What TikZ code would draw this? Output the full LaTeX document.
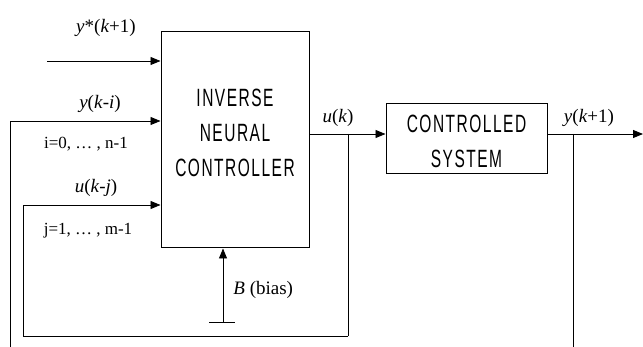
\documentclass[tikz,border=0pt]{standalone}
\usepackage{fontspec}
\setmainfont{Liberation Serif}
\newfontfamily\blkfont[FakeStretch=0.62,LetterSpace=6]{Liberation Sans}
\usetikzlibrary{positioning,calc,arrows.meta}
\tikzset{>={Triangle[length=10pt,width=8pt]}}
\tikzset{blk/.style={draw,line width=1pt,inner sep=0pt}  }
\tikzset{blktxt/.style={align=center,inner sep=0pt,font=\blkfont\fontsize{25}{35}\selectfont}  }
\tikzset{lbl/.style={inner sep=0pt,font=\fontsize{19}{21}\selectfont}  }
\tikzset{idx/.style={inner sep=0pt,font=\fontsize{17}{19}\selectfont}  }

\begin{document}
\begin{tikzpicture}[x=1pt,y=-1pt,line width=0.9pt]
\useasboundingbox (0,0) rectangle (643,347);

    % blocks
    \node[blk,minimum width=148pt,minimum height=216pt] (inc) at (235,140) {};
    \node[blktxt] (inctxt) at (235,133) {INVERSE\\NEURAL\\CONTROLLER};
    \node[blk,minimum width=161pt,minimum height=70pt] (sys) at (466.5,139) {};
    \node[blktxt] (systxt) at (466.5,141) {CONTROLLED\\SYSTEM};

    % junctions and free ends
    \coordinate (in1) at (47,61);
    \coordinate (uk) at (348,134);
    \coordinate (yk) at (573,134);
    \coordinate (out) at (643,134);
    \coordinate (yl) at (10,347);
    \coordinate (yend) at (573,347);
    \coordinate (ul) at (23,336);
    \coordinate (ur) at (348,336);
    \coordinate (bias) at (223,322);

    % inputs
    \draw[->] (in1)--(in1-|inc.west);
    \draw[->] (yl)--(10,121)--(10,121-|inc.west);
    \draw[->] (ur)--(ul)--(23,205)--(23,205-|inc.west);
    \draw (yk)--(yend);
    \draw (uk)--(ur);

    % forward path
    \draw[->] (inc.east|-uk)--(sys.west|-uk);
    \draw[->] (sys.east|-yk)--(out);

    % bias
    \draw[->] (bias)--(bias|-inc.south);
    \draw ($(bias)+(-14,0)$)--($(bias)+(12,0)$);

    % labels
    \node[lbl] (lys) at (106,28) {\textit{y}*(\textit{k}+1)};
    \node[lbl] (lyi) at (100,104) {\textit{y}(\textit{k}-\textit{i})};
    \node[idx] (li) at (86,144) {i=0,\ \dots\ , n-1};
    \node[lbl] (luj) at (96,188) {\textit{u}(\textit{k}-\textit{j})};
    \node[idx] (lj) at (88,231) {j=1,\ \dots\ , m-1};
    \node[lbl] (luk) at (338,118) {\textit{u}(\textit{k})};
    \node[lbl] (lyk) at (589,118) {\textit{y}(\textit{k}+1)};
    \node[lbl,anchor=west] (lb) at (233,290) {\textit{B} (bias)};
\end{tikzpicture}
\end{document}
